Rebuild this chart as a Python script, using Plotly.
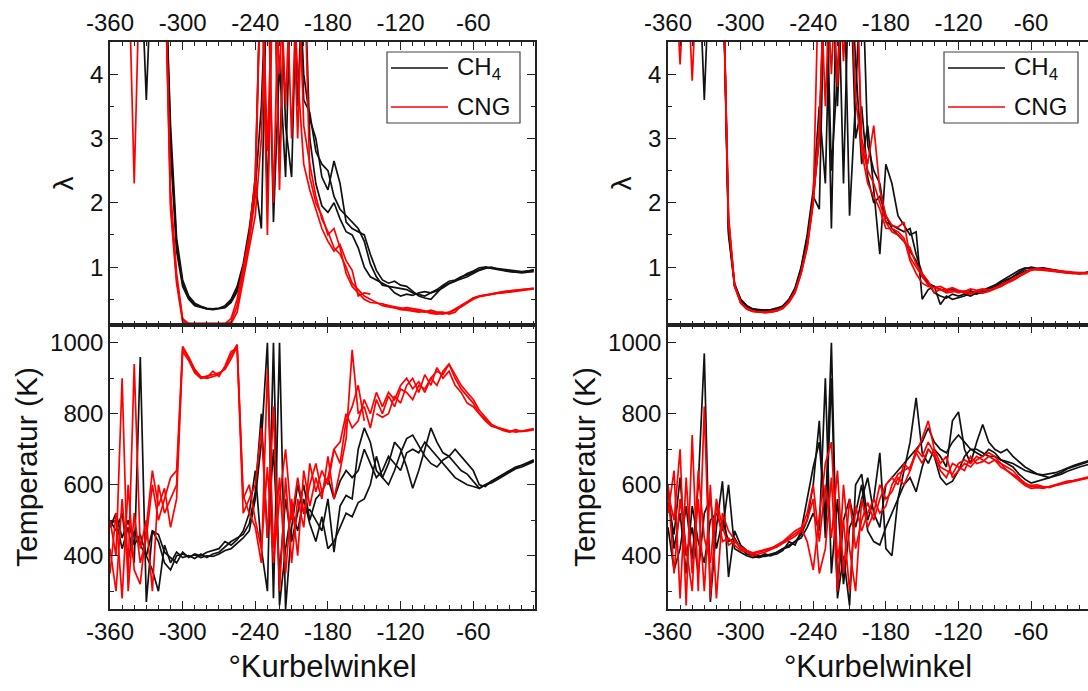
import plotly.graph_objects as go

# crank angle grid (deg)
theta = [-360, -355, -350, -345, -340, -335, -330, -325, -320, -315, -310, -305, -300, -295, -290,
         -285, -280, -275, -270, -265, -260, -255, -250, -245, -240, -235, -230, -225, -220, -215,
         -210, -205, -200, -195, -190, -185, -180, -175, -170, -165, -160, -155, -150, -145, -140,
         -135, -130, -125, -120, -115, -110, -105, -100, -95, -90, -85, -80, -75, -70, -65,
         -60, -55, -50, -45, -40, -35, -30, -25, -20, -15, -10]

# ---- left column: lambda ----
lam_L_ch4_a = [6, 6, 6, 6, 6, 6, 3.6, 6, 6, 6, 3.0, 1.35, 0.75, 0.52, 0.42,
               0.38, 0.35, 0.34, 0.35, 0.37, 0.45, 0.62, 0.95, 1.45, 2.2, 3.5, 6, 1.7, 4.2, 2.4,
               6, 6, 4.0, 3.3, 3.0, 2.4, 2.2, 2.65, 2.3, 1.7, 1.6, 1.55, 1.5, 1.2, 0.95,
               0.8, 0.75, 0.78, 0.72, 0.7, 0.62, 0.55, 0.52, 0.5, 0.6, 0.7, 0.75, 0.78, 0.82, 0.85,
               0.9, 0.95, 0.98, 1.0, 0.97, 0.95, 0.94, 0.92, 0.92, 0.93, 0.95]
lam_L_ch4_b = [6, 6, 6, 6, 6, 6, 6, 6, 6, 6, 2.8, 1.25, 0.7, 0.5, 0.4,
               0.37, 0.35, 0.35, 0.36, 0.4, 0.5, 0.7, 1.05, 1.6, 2.3, 1.6, 6, 6, 2.5, 6,
               6, 3.5, 6, 3.0, 2.3, 1.95, 1.85, 2.0, 1.75, 1.55, 1.5, 1.3, 1.0, 0.85, 0.8,
               0.75, 0.7, 0.6, 0.55, 0.58, 0.56, 0.6, 0.62, 0.6, 0.65, 0.72, 0.78, 0.8, 0.85, 0.88,
               0.92, 0.97, 1.0, 0.98, 0.96, 0.95, 0.93, 0.92, 0.91, 0.92, 0.93]
lam_L_ch4_c = [6, 6, 6, 6, 6, 6, 6, 6, 6, 6, 3.2, 1.45, 0.8, 0.55, 0.44,
               0.39, 0.36, 0.35, 0.36, 0.38, 0.47, 0.65, 1.0, 1.5, 2.4, 6, 2.0, 6, 6, 3.2,
               2.4, 6, 3.6, 3.4, 2.8, 2.6, 2.5, 2.1, 1.9, 1.8, 1.7, 1.6, 1.4, 1.05, 0.85,
               0.72, 0.7, 0.68, 0.66, 0.65, 0.6, 0.58, 0.55, 0.6, 0.63, 0.68, 0.74, 0.78, 0.84, 0.9,
               0.94, 0.99, 1.0, 0.99, 0.97, 0.96, 0.95, 0.94, 0.93, 0.94, 0.96]
lam_L_cng_a = [6, 6, 6, 6, 2.3, 6, 6, 6, 6, 6, 2.2, 0.9, 0.2, 0.12, 0.12,
               0.12, 0.12, 0.12, 0.12, 0.12, 0.12, 0.3, 0.8, 1.3, 1.8, 3.0, 6, 2.0, 6, 3.5,
               6, 4.0, 2.6, 2.2, 1.9, 1.6, 1.4, 1.25, 1.35, 1.1, 0.95, 0.55, 0.6, 0.58, None,
               0.42, 0.4, 0.38, 0.37, 0.35, 0.33, 0.32, 0.3, 0.33, 0.3, 0.3, 0.27, 0.3, 0.4, 0.45,
               0.52, 0.55, 0.56, 0.58, 0.6, 0.62, 0.63, 0.64, 0.65, 0.66, 0.67]
lam_L_cng_b = [6, 6, 6, 6, 6, 6, 6, 6, 6, 6, 1.9, 0.75, 0.15, 0.12, 0.12,
               0.12, 0.12, 0.12, 0.12, 0.12, 0.2, 0.5, 1.0, 1.5, 2.4, 6, 2.8, 6, 4.0, 6,
               3.0, 6, 3.2, 2.6, 2.1, 1.75, 1.55, 1.3, 1.2, 1.0, 0.75, 0.65, 0.55, 0.5, 0.45,
               0.4, 0.38, 0.36, 0.35, 0.37, 0.36, 0.34, 0.32, 0.3, 0.29, 0.27, 0.29, 0.33, 0.38, 0.44,
               0.5, 0.54, 0.56, 0.57, 0.59, 0.6, 0.61, 0.63, 0.64, 0.65, 0.66]
lam_L_cng_c = [6, 6, 6, 6, 6, 6, 6, 6, 6, 6, 2.0, 0.8, 0.18, 0.12, 0.12,
               0.12, 0.12, 0.12, 0.12, 0.12, 0.15, 0.4, 0.9, 1.4, 2.1, 6, 1.5, 6, 2.2, 6,
               6, 3.0, 6, 2.4, 2.0, 1.8, 1.5, 1.6, 1.3, 0.9, 0.7, 0.6, 0.5, 0.45, 0.44,
               0.43, 0.4, 0.37, 0.34, 0.33, 0.31, 0.3, 0.31, 0.28, 0.27, 0.28, 0.3, 0.35, 0.41, 0.47,
               0.52, 0.55, 0.57, 0.59, 0.61, 0.62, 0.63, 0.64, 0.65, 0.66, 0.67]

# ---- left column: temperature ----
T_L_ch4_a = [490, 500, 420, 480, 380, 960, 270, 470, 440, 380, 360, 400, 405, 398, 402,
             395, 400, 398, 405, 415, 420, 435, 450, 470, 560, 720, 1000, 280, 1000, 250,
             480, 600, 520, 530, 500, 470, 560, 410, 540, 570, 560, 700, 760, 720, 640,
             620, 660, 720, 700, 650, 590, 640, 700, 760, 720, 690, 680, 700, 680, 660,
             640, 600, 595, 610, 620, 630, 640, 650, 655, 660, 668]
T_L_ch4_b = [500, 470, 520, 390, 470, 430, 400, 470, 460, 410, 395, 380, 410, 395, 405,
             400, 410, 415, 420, 440, 430, 445, 470, 520, 640, 420, 300, 1000, 260, 420,
             530, 470, 560, 490, 440, 510, 420, 440, 480, 520, 510, 550, 560, 600, 680,
             620, 600, 640, 690, 730, 740, 710, 680, 660, 650, 670, 680, 660, 640, 630,
             610, 590, 600, 605, 615, 625, 635, 645, 650, 658, 665]
T_L_ch4_c = [480, 520, 450, 500, 430, 460, 400, 360, 300, 430, 380, 410, 395, 400, 392,
             405, 395, 405, 410, 425, 440, 450, 460, 490, 580, 800, 450, 700, 350, 560,
             440, 520, 600, 500, 560, 580, 620, 560, 610, 640, 620, 640, 700, 660, 620,
             640, 680, 660, 640, 690, 700, 690, 720, 700, 680, 660, 640, 620, 610, 600,
             595, 590, 600, 610, 618, 628, 638, 648, 655, 662, 670]
T_L_cng_a = [420, 300, 560, 350, 940, 420, 500, 300, 600, 520, 560, 600, 990, 960, 925,
             905, 900, 905, 910, 930, 965, 995, 570, 520, 480, 380, 920, 420, 620, 350,
             560, 400, 640, 540, 620, 560, 680, 560, 640, 730, 980, 800, 820, 760, 840,
             800, 850, 820, 870, 860, 840, 880, 870, 900, 880, 920, 940, 910, 880, 860,
             840, 810, 790, 770, 760, 755, 750, 755, 750, 752, 755]
T_L_cng_b = [350, 520, 280, 600, 360, 320, 480, 640, 540, 590, 480, 560, 975, 950, 915,
             900, 902, 920, 905, 935, 975, 985, 520, 560, 600, 760, 450, 820, 300, 620,
             380, 560, 480, 660, 580, 640, 600, 700, 660, 780, 820, 880, 780, None, 800,
             790, 800, 850, 830, 880, 900, 860, 910, 880, 930, 900, 920, 880, 860, 830,
             820, 800, 780, 765, 760, 752, 748, 752, 750, 755, 758]
T_L_cng_c = [500, 400, 900, 300, 520, 380, 450, 600, 500, 560, 620, 640, 985, 955, 920,
             902, 905, 910, 915, 925, 955, 990, 560, 600, 500, 420, 650, 380, 560, 700,
             500, 620, 520, 600, 660, 580, 620, 700, 720, 800, 760, 780, 840, 800, 860,
             820, 860, 840, 880, 900, 870, 890, 860, 900, 920, 910, 940, 900, 870, 850,
             830, 800, 785, 770, 762, 756, 752, 748, 752, 754, 756]

# ---- right column: lambda ----
lam_R_ch4_a = [6, 6, 6, 6, 6, 6, 3.6, 6, 6, 6, 1.6, 0.72, 0.5, 0.4, 0.35,
               0.33, 0.33, 0.33, 0.34, 0.38, 0.48, 0.65, 0.95, 1.4, 2.1, 1.9, 6, 1.6, 6, 2.3,
               6, 4.2, 2.6, 3.2, 2.2, 1.2, 2.6, 2.3, 1.8, 1.65, 1.5, 1.55, 0.5, 0.65, 0.7,
               0.42, 0.55, 0.5, 0.52, 0.55, 0.6, 0.58, 0.62, 0.66, 0.7, 0.76, 0.8, 0.85, 0.92, 0.97,
               1.0, 0.98, 0.99, 0.97, 0.95, 0.93, 0.92, 0.91, 0.91, 0.92, 0.93]
lam_R_ch4_b = [6, 6, 6, 6, 6, 6, 6, 6, 6, 6, 1.5, 0.7, 0.48, 0.38, 0.34,
               0.32, 0.32, 0.33, 0.35, 0.4, 0.5, 0.68, 1.0, 1.5, 2.2, 3.5, 2.3, 6, 3.5, 6,
               6, 3.0, 3.5, 2.4, 2.0, 2.1, 1.8, 1.6, 1.5, 1.4, 1.25, 1.1, 0.85, 0.75, 0.7,
               0.65, 0.64, 0.66, 0.62, 0.6, 0.63, 0.6, 0.64, 0.68, 0.72, 0.78, 0.84, 0.9, 0.95, 0.99,
               0.98, 0.96, 0.97, 0.95, 0.94, 0.92, 0.91, 0.9, 0.9, 0.91, 0.92]
lam_R_ch4_c = [6, 6, 6, 6, 6, 6, 6, 6, 6, 6, 1.55, 0.75, 0.5, 0.4, 0.35,
               0.34, 0.33, 0.34, 0.36, 0.39, 0.5, 0.66, 0.98, 1.45, 2.1, 3.0, 6, 2.5, 4.0, 6,
               1.8, 3.6, 6, 2.9, 2.5, 2.3, 1.7, 1.65, 1.6, 1.55, 1.6, 1.2, 0.9, 0.75, 0.6,
               0.55, 0.52, 0.58, 0.55, 0.58, 0.55, 0.6, 0.6, 0.63, 0.68, 0.72, 0.78, 0.85, 0.9, 0.94,
               0.96, 0.97, 0.98, 0.96, 0.94, 0.93, 0.92, 0.91, 0.9, 0.91, 0.92]
lam_R_cng_a = [6, 6, 4.15, 6, 6, 6, 6, 6, 6, 6, 1.8, 0.72, 0.45, 0.36, 0.32,
               0.3, 0.3, 0.31, 0.33, 0.37, 0.47, 0.63, 0.92, 1.35, 2.05, 3.0, 6, 6, 3.8, 6,
               4.5, 6, 3.0, 2.6, 3.2, 2.2, 1.8, 1.65, 1.62, 1.7, 1.15, 1.0, 0.85, 0.72, 0.68,
               0.7, 0.65, 0.68, 0.64, 0.62, 0.66, 0.64, 0.66, 0.64, 0.68, 0.7, 0.75, 0.79, 0.85, 0.9,
               0.95, 0.98, 0.97, 0.95, 0.94, 0.93, 0.92, 0.92, 0.91, 0.91, 0.92]
lam_R_cng_b = [6, 6, 6, 6, 3.9, 6, 6, 6, 6, 6, 1.7, 0.7, 0.44, 0.35, 0.31,
               0.3, 0.29, 0.3, 0.32, 0.36, 0.45, 0.6, 0.9, 1.3, 2.0, 6, 3.5, 6, 6, 4.2,
               6, 3.6, 2.9, 2.5, 2.3, 2.0, 1.7, 1.55, 1.5, 1.4, 1.3, 1.05, 0.9, 0.78, 0.6,
               0.66, 0.62, 0.64, 0.6, 0.63, 0.6, 0.62, 0.65, 0.63, 0.67, 0.72, 0.77, 0.82, 0.88, 0.93,
               0.97, 0.96, 0.95, 0.94, 0.93, 0.92, 0.91, 0.9, 0.91, 0.9, 0.91]
lam_R_cng_c = [6, 6, 6, 6, 6, 6, 6, 6, 6, 6, 1.75, 0.71, 0.45, 0.35, 0.31,
               0.3, 0.3, 0.3, 0.32, 0.36, 0.46, 0.62, 0.91, 1.32, 2.0, 3.2, 6, 4.0, 6, 6,
               6, 6, 2.8, 2.3, 2.1, 1.9, 1.6, 1.6, 1.55, 1.45, 1.1, 0.9, 0.75, 0.7, 0.68,
               0.65, 0.6, 0.62, 0.63, 0.6, 0.58, 0.62, 0.6, 0.62, 0.66, 0.7, 0.76, 0.8, 0.86, 0.92,
               0.96, 0.97, 0.96, 0.95, 0.93, 0.92, 0.91, 0.91, 0.9, 0.9, 0.91]

# ---- right column: temperature ----
T_R_ch4_a = [480, 360, 420, 540, 390, 600, 970, 270, 480, 610, 340, 470, 430, 415, 405,
             400, 398, 402, 405, 415, 440, 430, 470, 560, 650, 720, 500, 1000, 280, 400,
             260, 600, 630, 500, 560, 690, 420, 400, 560, 640, 720, 845, 690, 660, 700,
             680, 650, 780, 805, 700, 660, 720, 770, 720, 700, 690, 700, 680, 665, 650,
             640, 630, 625, 620, 628, 635, 645, 650, 655, 662, 668]
T_R_ch4_b = [600, 420, 520, 350, 540, 440, 380, 500, 520, 470, 600, 420, 410, 400, 395,
             398, 405, 400, 410, 420, 425, 440, 450, 480, 520, 470, 900, 350, 560, 320,
             480, 520, 600, 470, 440, 430, 480, 520, 560, 600, 620, 580, 650, 700, 680,
             620, 600, 610, 640, 680, 700, 690, 680, 700, 690, 670, 660, 650, 630, 615,
             605, 610, 615, 620, 625, 630, 638, 645, 650, 655, 660]
T_R_ch4_c = [550, 460, 620, 400, 480, 350, 520, 560, 420, 500, 440, 450, 420, 405, 400,
             395, 400, 405, 410, 420, 430, 440, 460, 500, 600, 780, 450, 900, 300, 500,
             560, 480, 560, 620, 520, 480, 600, 620, 640, 660, 680, 700, 720, 760, 720,
             700, 690, 720, 740, 720, 700, 700, 690, 680, 680, 670, 665, 660, 650, 640,
             635, 630, 628, 630, 634, 640, 648, 654, 660, 664, 670]
T_R_cng_a = [580, 500, 700, 260, 740, 300, 820, 280, 550, 440, 450, 430, 415, 410, 405,
             410, 415, 420, 430, 440, 455, 470, 480, 440, 360, 520, 660, 720, 390, 500,
             300, 540, 470, 520, 560, 520, 540, 600, 630, 640, 650, 690, 730, 780, 700,
             660, 680, 620, 640, 660, 650, 670, 680, 690, 680, 660, 650, 640, 620, 600,
             598, 600, 595, 592, 598, 603, 608, 612, 615, 618, 622]
T_R_cng_b = [520, 640, 280, 620, 350, 560, 300, 600, 280, 520, 470, 445, 420, 412, 400,
             405, 410, 418, 425, 435, 445, 455, 470, 500, 560, 350, 420, 620, 300, 600,
             420, 300, 560, 480, 520, 600, 560, 580, 620, 600, 640, 700, 680, 720, 690,
             640, 620, 660, 650, 640, 680, 660, 665, 680, 670, 650, 640, 625, 612, 598,
             590, 592, 590, 595, 600, 605, 610, 612, 616, 620, 624]
T_R_cng_c = [600, 350, 560, 420, 300, 640, 450, 380, 560, 480, 430, 440, 425, 415, 408,
             412, 418, 422, 428, 438, 450, 462, 475, 520, 600, 440, 600, 450, 640, 350,
             560, 420, 500, 550, 500, 560, 600, 620, 600, 660, 640, 690, 660, 700, 680,
             650, 640, 630, 660, 670, 660, 680, 670, 660, 670, 660, 640, 630, 618, 605,
             595, 596, 592, 594, 598, 602, 607, 611, 614, 618, 621]

x_ticks = [-360, -300, -240, -180, -120, -60]
x_tick_text = ["-360", "-300", "-240", "-180", "-120", "-60"]
lam_ticks = [1, 2, 3, 4]
lam_tick_text = ["1", "2", "3", "4"]
T_ticks = [400, 600, 800, 1000]
T_tick_text = ["400", "600", "800", "1000"]

BLACK = "#111111"
RED = "#ff0000"
FONT = "Arial, Liberation Sans, sans-serif"
LW = 1.7

fig = go.Figure()

panels = [
    ("x", "y", [lam_L_ch4_a, lam_L_ch4_b, lam_L_ch4_c], [lam_L_cng_a, lam_L_cng_b, lam_L_cng_c]),
    ("x2", "y2", [T_L_ch4_a, T_L_ch4_b, T_L_ch4_c], [T_L_cng_a, T_L_cng_b, T_L_cng_c]),
    ("x3", "y3", [lam_R_ch4_a, lam_R_ch4_b, lam_R_ch4_c], [lam_R_cng_a, lam_R_cng_b, lam_R_cng_c]),
    ("x4", "y4", [T_R_ch4_a, T_R_ch4_b, T_R_ch4_c], [T_R_cng_a, T_R_cng_b, T_R_cng_c]),
]
for xa, ya, blacks, reds in panels:
    for s in blacks:
        fig.add_trace(go.Scatter(x=theta, y=s, xaxis=xa, yaxis=ya, mode="lines",
                                 line=dict(color=BLACK, width=LW), showlegend=False,
                                 connectgaps=False))
    for s in reds:
        fig.add_trace(go.Scatter(x=theta, y=s, xaxis=xa, yaxis=ya, mode="lines",
                                 line=dict(color=RED, width=LW), showlegend=False,
                                 connectgaps=False))

W, H = 1088, 691
xL = [110 / W, 535 / W]
xR = [668 / W, 1.0]
y_top = [1 - 325 / H, 1 - 42 / H]
y_bot = [1 - 609 / H, 1 - 325 / H]

tickfont = dict(family=FONT, size=24, color="#111")
common = dict(showline=True, linecolor="#222", linewidth=1.5, ticks="inside",
              ticklen=8, tickwidth=1.3, tickcolor="#222", showgrid=False, zeroline=False,
              tickfont=tickfont, automargin=False)


def xax(domain, anchor, side, title=None, mirror="allticks", rng=(-360, -9)):
    d = dict(common, domain=domain, anchor=anchor, side=side, range=list(rng),
             tickmode="array", tickvals=x_ticks, ticktext=x_tick_text, mirror=mirror,
             minor=dict(dtick=10, tick0=-360, ticks="inside", ticklen=4, tickwidth=1.2,
                        tickcolor="#222"))
    if title:
        d["title"] = dict(text=title, font=dict(family=FONT, size=31, color="#111"),
                          standoff=12)
    return d


def yax(domain, anchor, rng, tickvals, ticktext, minor_dtick, title, mirror="allticks",
        size=30, standoff=4):
    return dict(common, domain=domain, anchor=anchor, range=rng, tickmode="array",
                tickvals=tickvals, ticktext=ticktext, mirror=mirror,
                minor=dict(dtick=minor_dtick, ticks="inside", ticklen=4, tickwidth=1.2,
                           tickcolor="#222"),
                title=dict(text=title, font=dict(family=FONT, size=size, color="#111"),
                           standoff=standoff))


fig.update_layout(
    width=W, height=H, margin=dict(l=0, r=0, t=0, b=0, autoexpand=False),
    paper_bgcolor="white", plot_bgcolor="white", showlegend=False,
    xaxis=xax(xL, "y", "top"),
    xaxis2=xax(xL, "y2", "bottom", title="°Kurbelwinkel"),
    xaxis3=xax(xR, "y3", "top", rng=(-360, -13)),
    xaxis4=xax(xR, "y4", "bottom", title="°Kurbelwinkel", rng=(-360, -13)),
    yaxis=yax(y_top, "x", [0.1, 4.5], lam_ticks, lam_tick_text, 0.5, "λ", size=28, standoff=8),
    yaxis2=yax(y_bot, "x2", [250, 1050], T_ticks, T_tick_text, 100, "Temperatur (K)"),
    yaxis3=yax(y_top, "x3", [0.1, 4.5], lam_ticks, lam_tick_text, 0.5, "λ", mirror=False,
               size=28, standoff=8),
    yaxis4=yax(y_bot, "x4", [250, 1050], T_ticks, T_tick_text, 100, "Temperatur (K)",
               mirror=False),
)

# manual legends (box, sample lines, labels)
legend_font = dict(family=FONT, size=24, color="#111")
for (bx0, bx1, lx0, lx1, tx) in [(387, 520, 391, 448, 455), (944, 1078, 948, 1005, 1012)]:
    fig.add_shape(type="rect", xref="paper", yref="paper",
                  x0=bx0 / W, x1=bx1 / W, y0=1 - 123 / H, y1=1 - 52 / H,
                  line=dict(color="#444", width=1.2), fillcolor="white", layer="above")
    for yy, col, label in [(68, BLACK, "CH<sub>4</sub>"), (107, RED, "CNG")]:
        fig.add_shape(type="line", xref="paper", yref="paper",
                      x0=lx0 / W, x1=lx1 / W, y0=1 - yy / H, y1=1 - yy / H,
                      line=dict(color=col, width=LW), layer="above")
        fig.add_annotation(xref="paper", yref="paper", x=tx / W, y=1 - yy / H,
                           xanchor="left", yanchor="middle", showarrow=False,
                           text=label, font=legend_font)

fig.write_html("out.html")
